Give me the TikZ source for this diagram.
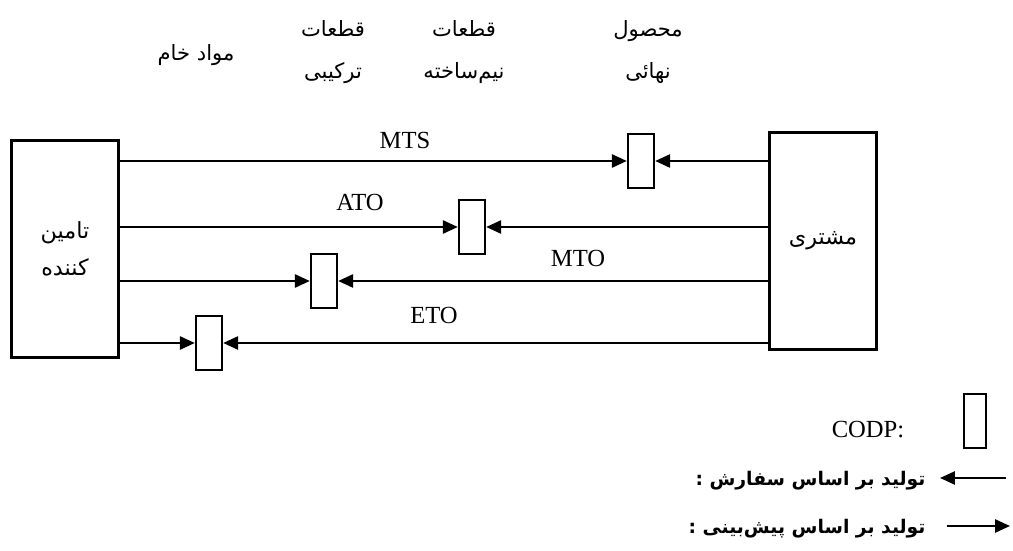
\documentclass[tikz,border=0pt]{standalone}
\usepackage{fontspec}
\setmainfont{Liberation Serif}
\newfontfamily\fafont[Script=Arabic]{DejaVu Sans}
\TeXXeTstate=1
\usetikzlibrary{arrows.meta}
\tikzset{
  blk/.style={draw, line width=1pt, minimum width=1.6cm, minimum height=3.25cm, inner sep=0pt, align=center, font=\fafont\fontsize{9.5}{16}\selectfont},
  codp/.style={draw, line width=1pt, minimum width=0.39cm, minimum height=0.81cm, inner sep=0pt},
  key/.style={draw, line width=0.8pt, minimum width=0.34cm, minimum height=0.82cm, inner sep=0pt},
  fwd/.style={-{Triangle[length=6.4pt,width=5.6pt]}, line width=1pt},
  bwd/.style={-{Triangle[length=6.4pt,width=5.6pt]}, line width=1pt},
  lat/.style={inner sep=0pt, font=\fontsize{10.5}{12}\selectfont},
  fa/.style={inner sep=0pt, align=center, font=\fafont\fontsize{9}{18}\selectfont},
  fab/.style={inner sep=0pt, font=\fafont\bfseries\fontsize{8}{10}\selectfont},
}
\begin{document}
\begin{tikzpicture}[x=0.015cm, y=-0.015cm]
  \useasboundingbox (0,0) rectangle (1013,551);
  \node[blk] (sup) at (65,249) {\beginR تامین\endR\\\beginR کننده\endR};
  \node[blk] (cus) at (823,241) {\beginR مشتری\endR};

  \node[codp] (mts) at (641,161) {};
  \node[codp] (ato) at (472,227) {};
  \node[codp] (mto) at (324,281) {};
  \node[codp] (eto) at (209,343) {};

  \draw[fwd] (sup.east |- mts) -- (mts.west);
  \draw[bwd] (cus.west |- mts) -- (mts.east);
  \draw[fwd] (sup.east |- ato) -- (ato.west);
  \draw[bwd] (cus.west |- ato) -- (ato.east);
  \draw[fwd] (sup.east |- mto) -- (mto.west);
  \draw[bwd] (cus.west |- mto) -- (mto.east);
  \draw[fwd] (sup.east |- eto) -- (eto.west);
  \draw[bwd] (cus.west |- eto) -- (eto.east);

  \node[lat] (lmts) at (405,140) {MTS};
  \node[lat] (lato) at (360,202) {ATO};
  \node[lat] (lmto) at (578,258) {MTO};
  \node[lat] (leto) at (434,315) {ETO};

  \node[fa] (raw) at (196,55) {\beginR مواد خام\endR};
  \node[fa] (comp) at (333,52) {\beginR قطعات\endR\\\beginR ترکیبی\endR};
  \node[fa] (semi) at (464,52) {\beginR قطعات\endR\\\beginR نیم‌ساخته\endR};
  \node[fa] (prod) at (648,52) {\beginR محصول\endR\\\beginR نهائی\endR};

  \node[lat] (codptxt) at (868,430) {CODP:};
  \node[key] (codpkey) at (975,421) {};
  \node[fab, anchor=east] (ordtxt) at (926,481) {\beginR تولید بر اساس سفارش :\endR};
  \node[fab, anchor=east] (fcsttxt) at (926,529) {\beginR تولید بر اساس پیش‌بینی :\endR};
  \coordinate (ords) at (1006,478);
  \coordinate (orde) at (940,478);
  \coordinate (fcss) at (947,526);
  \coordinate (fcse) at (1010,526);
  \draw[bwd] (ords) -- (orde);
  \draw[fwd] (fcss) -- (fcse);
\end{tikzpicture}
\end{document}
